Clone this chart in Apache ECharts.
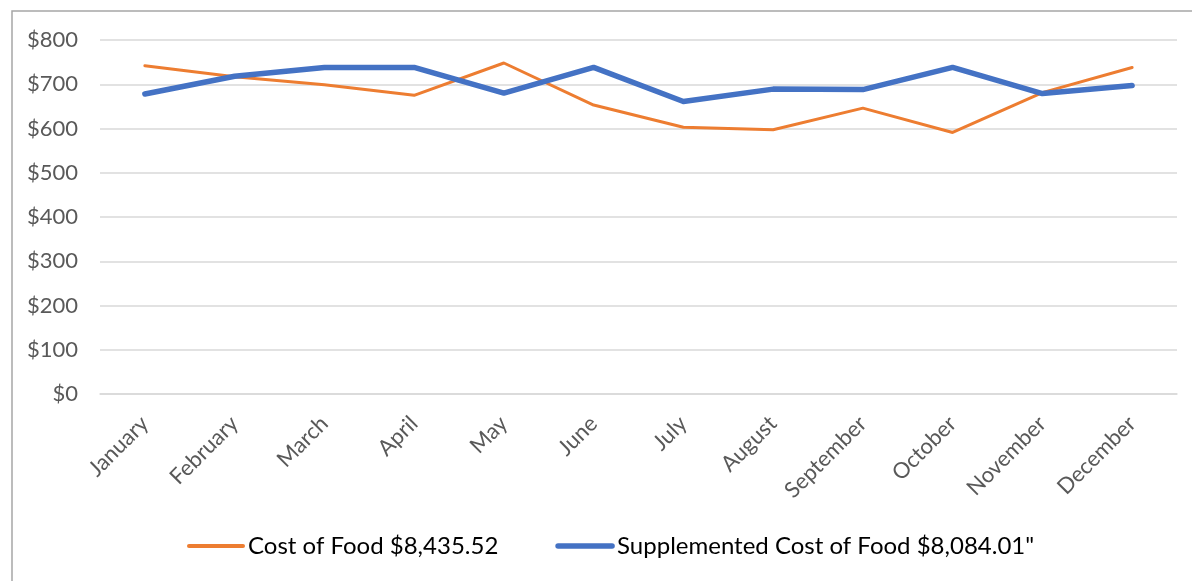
<!DOCTYPE html>
<html>
<head>
<meta charset="utf-8">
<script src="https://cdn.jsdelivr.net/npm/echarts@6/dist/echarts.min.js"></script>
<style>
  html, body { margin: 0; padding: 0; background: #fff; overflow: hidden; }
  #container { width: 1192px; height: 581px; }
</style>
</head>
<body>
<div id="container"></div>
<script>
// data
var months = ['January', 'February', 'March', 'April', 'May', 'June',
    'July', 'August', 'September', 'October', 'November', 'December'];
var costOfFood = [742, 717, 699, 675, 748, 653, 603, 597, 646, 591, 681, 738];
var supplementedCost = [678, 718, 738, 738, 680, 738, 661, 689, 688, 738, 679, 697];
var costName = 'Cost of Food $8,435.52';
var supplementedName = 'Supplemented Cost of Food $8,084.01"';

var myChart = echarts.init(document.getElementById('container'));

var option = {
    animation: false,
    textStyle: {fontFamily: 'Lato'},
    graphic: [
        {
            type: 'rect',
            shape: {x: 12, y: 11, width: 1400, height: 800},
            style: {fill: 'none', stroke: '#a6a6a6', lineWidth: 1.5},
            silent: true
        }
    ],
    grid: {left: 100, right: 15, top: 40, bottom: 187},
    legend: {
        bottom: 18,
        left: 182,
        itemWidth: 54,
        itemHeight: 14,
        itemGap: 57,
        itemStyle: {opacity: 0},
        textStyle: {fontSize: 24, color: '#000', fontFamily: 'Lato'},
        data: [
            {name: costName, lineStyle: {width: 4, color: '#ed7d31', cap: 'round'}},
            {name: supplementedName, lineStyle: {width: 5.5, color: '#4472c4', cap: 'round'}}
        ]
    },
    xAxis: {
        type: 'category',
        data: months,
        boundaryGap: true,
        axisLine: {lineStyle: {color: '#d9d9d9', width: 1.5}},
        axisTick: {show: false},
        axisLabel: {rotate: 45, margin: 26, fontSize: 22, color: '#595959', interval: 0}
    },
    yAxis: {
        type: 'value',
        min: 0,
        max: 800,
        interval: 100,
        axisLine: {show: false},
        axisTick: {show: false},
        splitLine: {lineStyle: {color: '#d9d9d9', width: 1.5}},
        axisLabel: {
            margin: 22,
            fontSize: 22,
            color: '#595959',
            formatter: function (v) { return '$' + v; }
        }
    },
    series: [
        {
            name: costName,
            type: 'line',
            data: costOfFood,
            symbol: 'none',
            lineStyle: {color: '#ed7d31', width: 3, cap: 'round'},
            itemStyle: {color: '#ed7d31'}
        },
        {
            name: supplementedName,
            type: 'line',
            data: supplementedCost,
            symbol: 'none',
            lineStyle: {color: '#4472c4', width: 5.5, cap: 'round', join: 'round'},
            itemStyle: {color: '#4472c4'}
        }
    ]
};
myChart.setOption(option);
</script>
</body>
</html>
